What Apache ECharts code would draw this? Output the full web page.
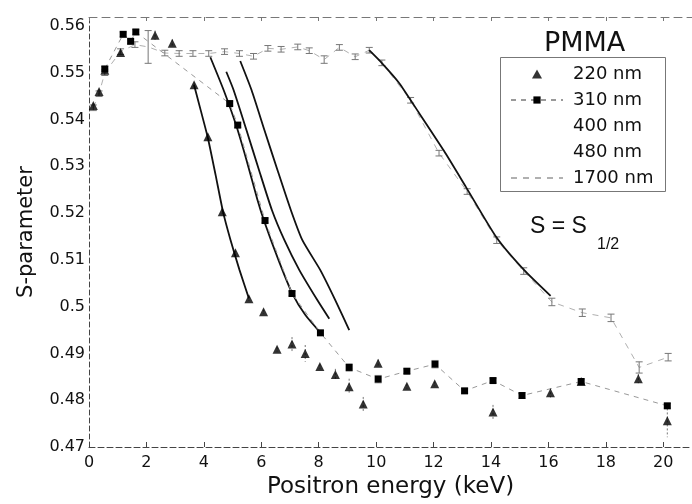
<!DOCTYPE html>
<html><head><meta charset="utf-8">
<script src="https://cdn.jsdelivr.net/npm/echarts@6/dist/echarts.min.js"></script>
<style>html,body{margin:0;padding:0;background:#fff}#c{width:692px;height:504px}</style>
</head><body><div id="c"></div>
<script>
// ---- tick labels ----
const xTickValues = [0, 2, 4, 6, 8, 10, 12, 14, 16, 18, 20];
const yTickLabels = ['0.47','0.48','0.49','0.5','0.51','0.52','0.53','0.54','0.55','0.56'];

// ---- 220 nm (triangles) ----
const e220 = [0.15, 0.35, 0.55, 1.1, 2.3, 2.9, 3.66, 4.14, 4.64, 5.1, 5.57, 6.08, 6.55, 7.07, 7.53, 8.04, 8.58, 9.06, 9.55, 10.07, 11.07, 12.04, 14.07, 16.07, 17.14, 19.13, 20.14];
const s220 = [0.5430, 0.5460, 0.5505, 0.5543, 0.5580, 0.5563, 0.5474, 0.5363, 0.5203, 0.5115, 0.5017, 0.4989, 0.4909, 0.4920, 0.4900, 0.4872, 0.4855, 0.4829, 0.4792, 0.4879, 0.4830, 0.4835, 0.4775, 0.4816, 0.4840, 0.4846, 0.4756];
const err220 = [0.0005, 0.0005, 0.0005, 0.0005, 0.0010, 0.0008, 0.0005, 0.0005, 0.0005, 0.0005, 0.0005, 0.0005, 0.0005, 0.0015, 0.0018, 0.0005, 0.0012, 0.0017, 0.0015, 0.0008, 0.0005, 0.0005, 0.0015, 0.0010, 0.0005, 0.0010, 0.0035];

// ---- 310 nm (squares) ----
const e310 = [0.55, 1.19, 1.45, 1.63, 4.9, 5.18, 6.13, 7.07, 8.06, 9.06, 10.07, 11.07, 12.05, 13.08, 14.07, 15.08, 17.14, 20.14];
const s310 = [0.5508, 0.5582, 0.5567, 0.5587, 0.5434, 0.5388, 0.5184, 0.5028, 0.4944, 0.4870, 0.4845, 0.4862, 0.4877, 0.4820, 0.4842, 0.4810, 0.4840, 0.4788];
const err310 = [0.0005, 0.0005, 0.0005, 0.0005, 0.0005, 0.0005, 0.0005, 0.0005, 0.0005, 0.0008, 0.0008, 0.0005, 0.0008, 0.0005, 0.0005, 0.0006, 0.0005, 0.0005];

// ---- 1700 nm (error bars, dashed) ----
const e1700 = [0.15, 0.35, 0.55, 1.1, 1.6, 2.06, 2.64, 3.14, 3.62, 4.17, 4.72, 5.24, 5.73, 6.23, 6.69, 7.27, 7.67, 8.19, 8.72, 9.27, 9.76, 10.2, 11.2, 12.19, 13.17, 14.2, 15.14, 16.12, 17.18, 18.18, 19.16, 20.17];
const s1700 = [0.5425, 0.5455, 0.5500, 0.5545, 0.5560, 0.5555, 0.5542, 0.5541, 0.5541, 0.5541, 0.5545, 0.5541, 0.5535, 0.5552, 0.5550, 0.5555, 0.5547, 0.5528, 0.5554, 0.5534, 0.5548, 0.5521, 0.5441, 0.5328, 0.5246, 0.5142, 0.5076, 0.5010, 0.4987, 0.4976, 0.4870, 0.4892];
const err1700 = [0.0006, 0.0006, 0.0006, 0.0006, 0.0006, 0.0035, 0.0006, 0.0006, 0.0006, 0.0006, 0.0006, 0.0006, 0.0006, 0.0006, 0.0006, 0.0006, 0.0006, 0.0008, 0.0006, 0.0006, 0.0006, 0.0006, 0.0006, 0.0006, 0.0006, 0.0007, 0.0007, 0.0008, 0.0008, 0.0008, 0.0012, 0.0008];

// ---- S = S1/2 fit curves ----
const fit220E = [3.656, 3.889, 4.142, 4.410, 4.670, 4.931, 5.243, 5.566];
const fit220S = [0.5474, 0.5420, 0.5360, 0.5281, 0.5202, 0.5142, 0.5078, 0.5018];
const fit310E = [4.226, 4.688, 5.122, 5.486, 5.868, 6.111, 6.597, 7.073, 7.535, 8.080];
const fit310S = [0.5533, 0.5463, 0.5388, 0.5313, 0.5228, 0.5181, 0.5100, 0.5029, 0.4982, 0.4943];
const fit400E = [4.781, 5.035, 5.486, 5.920, 6.372, 6.806, 7.326, 7.951, 8.368];
const fit400S = [0.5502, 0.5463, 0.5377, 0.5292, 0.5206, 0.5142, 0.5078, 0.5014, 0.4974];
const fit480E = [5.267, 5.660, 6.111, 6.563, 7.031, 7.431, 8.056, 8.576, 9.063];
const fit480S = [0.5525, 0.5463, 0.5377, 0.5292, 0.5206, 0.5142, 0.5078, 0.5014, 0.4950];
const fit1700E = [9.757, 10.208, 10.799, 11.493, 12.361, 13.125, 14.201, 15.139, 16.076];
const fit1700S = [0.5548, 0.5520, 0.5478, 0.5414, 0.5333, 0.5256, 0.5147, 0.5079, 0.5023];

const zip = (a, b) => a.map((v, i) => [v, b[i]]);
const zip3 = (a, b, c) => a.map((v, i) => [v, b[i], c[i]]);

function errRender(capW, color, dash) {
  return function (params, api) {
    const x = api.value(0), y = api.value(1), e = api.value(2);
    const t = api.coord([x, y + e]), b = api.coord([x, y - e]);
    const style = { stroke: color, lineWidth: 1, lineDash: dash || null, fill: null };
    const ch = [{ type: 'line', shape: { x1: t[0], y1: t[1], x2: b[0], y2: b[1] }, style }];
    if (capW) {
      ch.push({ type: 'line', shape: { x1: t[0] - capW, y1: t[1], x2: t[0] + capW, y2: t[1] }, style });
      ch.push({ type: 'line', shape: { x1: b[0] - capW, y1: b[1], x2: b[0] + capW, y2: b[1] }, style });
    }
    return { type: 'group', children: ch };
  };
}

const FONT = 'DejaVu Sans';
const chart = echarts.init(document.getElementById('c'), null, { renderer: 'canvas' });
const fitLine = { color: '#111', width: 1.8 };
const fitCommon = { type: 'line', smooth: 0.2, symbol: 'none', lineStyle: fitLine, itemStyle: { color: '#111' }, z: 3 };

chart.setOption({
  animation: false,
  backgroundColor: '#fff',
  grid: { left: 89, top: 17, width: 604.8, height: 430, containLabel: false },
  xAxis: [{
    type: 'value', min: 0, max: 21, interval: 2,
    name: 'Positron energy (keV)', nameLocation: 'middle', nameGap: 26,
    nameTextStyle: { fontFamily: FONT, fontSize: 23, color: '#111' },
    axisLine: { show: true, onZero: false, lineStyle: { color: '#444', width: 1, type: [6, 3] } },
    axisTick: { show: true, inside: true, length: 5, lineStyle: { color: '#444' } },
    axisLabel: { fontFamily: FONT, fontSize: 16, color: '#111', margin: 8, showMaxLabel: false,
      formatter: v => xTickValues.indexOf(Math.round(v)) >= 0 ? String(Math.round(v)) : '' },
    splitLine: { show: false }
  }, {
    type: 'value', position: 'top', min: 0, max: 21, interval: 2,
    axisLine: { show: true, onZero: false, lineStyle: { color: '#777', width: 1, type: [8, 5] } },
    axisTick: { show: true, inside: true, length: 4, lineStyle: { color: '#777' } },
    axisLabel: { show: false }, splitLine: { show: false }
  }],
  yAxis: {
    type: 'value', min: 0.47, max: 0.5619, interval: 0.01,
    name: 'S-parameter', nameLocation: 'middle', nameGap: 52, nameRotate: 90,
    nameTextStyle: { fontFamily: FONT, fontSize: 21, color: '#111' },
    axisLine: { show: true, onZero: false, lineStyle: { color: '#444', width: 1, type: [5, 3] } },
    axisTick: { show: false },
    axisLabel: { fontFamily: FONT, fontSize: 16, color: '#111', margin: 4, showMaxLabel: false,
      formatter: v => { const i = Math.round((v - 0.47) * 100); return yTickLabels[i] !== undefined && Math.abs(v - (0.47 + i * 0.01)) < 1e-6 ? yTickLabels[i] : ''; } },
    splitLine: { show: false }
  },
  legend: {
    orient: 'vertical', left: 510, top: 64, padding: 0,
    itemWidth: 52, itemHeight: 9, itemGap: 6,
    textStyle: { fontFamily: FONT, fontSize: 18, color: '#111', lineHeight: 20, padding: [0, 0, 0, 5] },
    data: [
      { name: '220 nm', icon: 'path://M5,0 L10,9 L0,9 Z', itemStyle: { color: '#000' } },
      { name: '310 nm' },
      { name: '400 nm', icon: 'none' },
      { name: '480 nm', icon: 'none' },
      { name: '1700 nm', itemStyle: { color: 'rgba(0,0,0,0)', borderColor: 'rgba(0,0,0,0)' } }
    ]
  },
  graphic: [
    { type: 'rect', left: 498, top: 55, shape: { width: 165, height: 134 }, style: { fill: 'none', stroke: '#777', lineWidth: 1 }, silent: true },
    { type: 'text', left: 544, top: 30, style: { text: 'PMMA', font: '27px "DejaVu Sans"', fill: '#111' } },
    { type: 'text', left: 530, top: 215, style: { text: 'S = S', font: '23px "Liberation Sans"', fill: '#111' } },
    { type: 'text', left: 597, top: 237, style: { text: '1/2', font: '16px "Liberation Sans"', fill: '#111' } }
  ],
  series: [
    { name: '1700 nm', type: 'line', data: zip(e1700, s1700), symbol: 'none',
      lineStyle: { color: '#b0b0b0', width: 1, type: [6, 6] }, itemStyle: { color: '#aaa' }, z: 1 },
    { name: 'err1700', type: 'custom', data: zip3(e1700, s1700, err1700), encode: { x: 0, y: 1 },
      renderItem: errRender(3.5, '#777'), silent: true, z: 2 },
    { name: 'err310', type: 'custom', data: zip3(e310, s310, err310), encode: { x: 0, y: 1 },
      renderItem: errRender(3.5, '#999'), silent: true, z: 2 },
    { name: 'err220', type: 'custom', data: zip3(e220, s220, err220), encode: { x: 0, y: 1 },
      renderItem: errRender(0, '#777', [2, 2]), silent: true, z: 2 },
    { name: '310 nm', type: 'line', data: zip(e310, s310), symbol: 'rect', symbolSize: 7,
      lineStyle: { color: '#999', width: 1, type: [5, 5] }, itemStyle: { color: '#000' }, z: 4 },
    { name: '220 nm', type: 'scatter', data: zip(e220, s220), symbol: 'triangle', symbolSize: 9,
      itemStyle: { color: '#000' }, z: 5 },
    Object.assign({ name: 'fit220', data: zip(fit220E, fit220S) }, fitCommon),
    Object.assign({ name: 'fit310', data: zip(fit310E, fit310S) }, fitCommon),
    Object.assign({ name: '400 nm', data: zip(fit400E, fit400S) }, fitCommon),
    Object.assign({ name: '480 nm', data: zip(fit480E, fit480S) }, fitCommon),
    Object.assign({ name: 'fit1700', data: zip(fit1700E, fit1700S) }, fitCommon)
  ]
});
</script></body></html>
